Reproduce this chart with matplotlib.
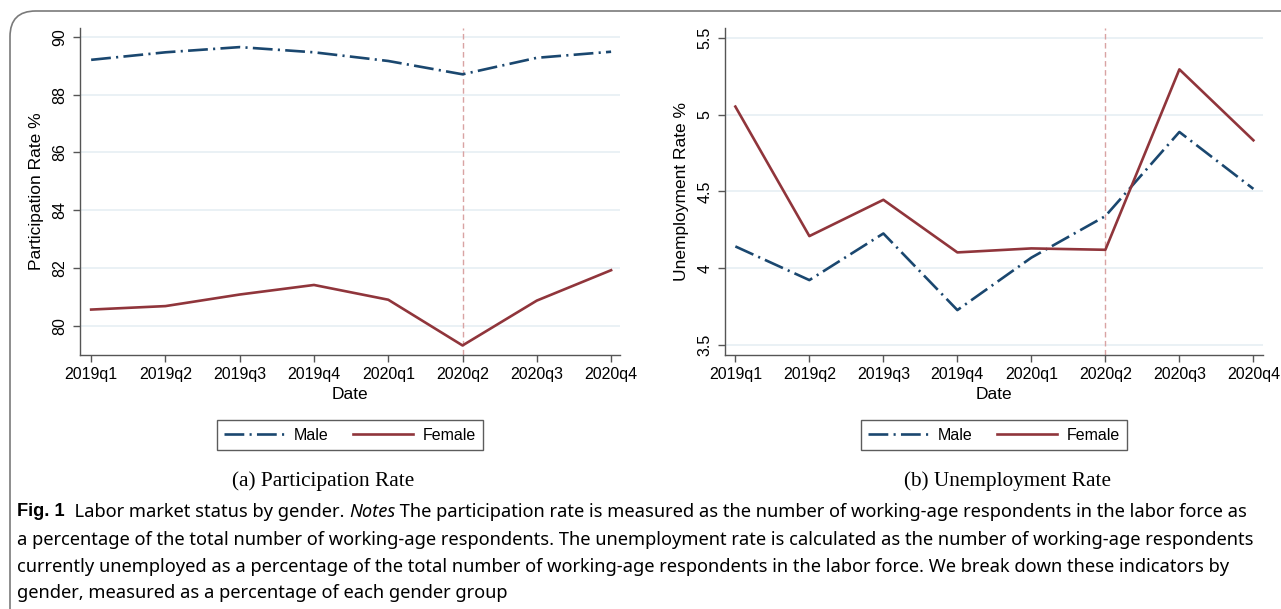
import matplotlib
matplotlib.use("Agg")
import matplotlib.pyplot as plt
from matplotlib.patches import FancyBboxPatch
from matplotlib.lines import Line2D

# Quarterly series by gender
quarters = ["2019q1", "2019q2", "2019q3", "2019q4", "2020q1", "2020q2", "2020q3", "2020q4"]
participation_male = [89.20, 89.46, 89.64, 89.46, 89.16, 88.70, 89.27, 89.48]
participation_female = [80.57, 80.69, 81.09, 81.42, 80.91, 79.33, 80.88, 81.93]
unemployment_male = [4.143, 3.924, 4.227, 3.729, 4.07, 4.34, 4.887, 4.517]
unemployment_female = [5.052, 4.21, 4.446, 4.104, 4.13, 4.121, 5.294, 4.833]

participation_ticks = [80, 82, 84, 86, 88, 90]
unemployment_ticks = [3.5, 4, 4.5, 5, 5.5]
unemployment_ticklabels = ["3.5", "4", "4.5", "5", "5.5"]
event_quarter = "2020q2"

NAVY = "#1a476f"
MAROON = "#90353b"
GRID = "#e6eff3"
AXIS = "#555555"
EVENT = "#d9a3a3"
MALE_DASH = (0, (7.5, 2.0, 0.8, 2.0))

plt.rcParams["font.family"] = ["Liberation Sans", "DejaVu Sans"]

W, H = 1281, 609
fig = plt.figure(figsize=(W / 100, H / 100), dpi=100)
fig.patch.set_facecolor("white")

def frac(x0, y0, x1, y1):
    return [x0 / W, 1 - y1 / H, (x1 - x0) / W, (y1 - y0) / H]

def panel(rect, male, female, ylim, yticks, yticklabels, ylabel, xlim):
    ax = fig.add_axes(rect)
    x = list(range(len(quarters)))
    ax.set_xlim(*xlim)
    ax.set_ylim(*ylim)
    for t in yticks:
        ax.axhline(t, color=GRID, lw=1.2, zorder=0)
    ev = quarters.index(event_quarter)
    ax.axvline(ev, color=EVENT, lw=1.0, ls=(0, (4, 2.5)), zorder=1)
    ax.plot(x, male, color=NAVY, lw=1.9, ls=MALE_DASH, zorder=3)
    ax.plot(x, female, color=MAROON, lw=1.9, zorder=3)
    ax.set_xticks(x)
    ax.set_xticklabels(quarters, fontsize=11.5)
    ax.set_yticks(yticks)
    ax.set_yticklabels(yticklabels, fontsize=11.5, rotation=90, va="center")
    ax.set_xlabel("Date", fontsize=12.5, labelpad=3)
    ax.set_ylabel(ylabel, fontsize=12.5, labelpad=6)
    for s in ["top", "right"]:
        ax.spines[s].set_visible(False)
    for s in ["left", "bottom"]:
        ax.spines[s].set_color(AXIS)
        ax.spines[s].set_linewidth(1.0)
    ax.tick_params(direction="out", length=5, width=1.0, color=AXIS, pad=4)
    ax.set_facecolor("white")
    return ax

axL = panel(frac(80, 28, 620, 355), participation_male, participation_female,
            (79.0, 90.3), participation_ticks, [str(t) for t in participation_ticks],
            "Participation Rate %", (-0.15, 7.12))
axR = panel(frac(725, 28, 1263, 355), unemployment_male, unemployment_female,
            (3.437, 5.563), unemployment_ticks, unemployment_ticklabels,
            "Unemployment Rate %", (-0.14, 7.13))

handles = [Line2D([], [], color=NAVY, lw=1.9, ls=MALE_DASH),
           Line2D([], [], color=MAROON, lw=1.9)]
for cx in (350 / W, 994 / W):
    leg = fig.legend(handles, ["Male", "Female"], loc="center", ncol=2,
                     bbox_to_anchor=(cx, 1 - 435 / H), fontsize=11.5, frameon=True,
                     fancybox=False, edgecolor="#333333", handlelength=3.8,
                     columnspacing=1.5, borderpad=0.45, handletextpad=0.6,
                     borderaxespad=0)
    leg.get_frame().set_linewidth(1.0)

# Panel subtitles
serif = ["Liberation Serif", "DejaVu Serif"]
fig.text(323 / W, 1 - 481 / H, "(a) Participation Rate", ha="center", va="center",
         fontsize=15.3, family=serif)
fig.text(1007 / W, 1 - 481 / H, "(b) Unemployment Rate", ha="center", va="center",
         fontsize=15.3, family=serif)

# Figure caption, sized so the longest line spans the frame width
cap_font = ["Noto Sans", "DejaVu Sans"]
bold_font = ["Liberation Sans", "DejaVu Sans"]
lines_y = [512, 540, 567, 593]
first_parts = [("Fig. 1", dict(fontweight="bold", family=bold_font)),
               ("  Labor market status by gender. ", dict(family=cap_font)),
               ("Notes", dict(style="italic", family=cap_font)),
               (" The participation rate is measured as the number of working-age respondents in the labor force as",
                dict(family=cap_font))]
caption_rest = [
    "a percentage of the total number of working-age respondents. The unemployment rate is calculated as the number of working-age respondents",
    "currently unemployed as a percentage of the total number of working-age respondents in the labor force. We break down these indicators by",
    "gender, measured as a percentage of each gender group",
]

renderer = fig.canvas.get_renderer()
probe = fig.text(0, 0, caption_rest[0], fontsize=12, family=cap_font)
probe_w = probe.get_window_extent(renderer).width
probe.remove()
cap_size = 12 * (1253 - 17) / probe_w

x = 17
for txt, kw in first_parts:
    t = fig.text(x / W, 1 - lines_y[0] / H, txt, ha="left", va="center",
                 fontsize=cap_size, **kw)
    x += t.get_window_extent(renderer).width
for yy, txt in zip(lines_y[1:], caption_rest):
    fig.text(17 / W, 1 - yy / H, txt, ha="left", va="center",
             fontsize=cap_size, family=cap_font)

# Rounded frame around the figure
frame = FancyBboxPatch((10 / W, -0.05), 1.2, 1 - 11 / H + 0.05,
                       boxstyle="round,pad=0,rounding_size=0.02",
                       transform=fig.transFigure, fill=False, edgecolor="#7a7a7a",
                       lw=1.2, clip_on=False, mutation_aspect=W / H)
fig.patches.append(frame)

fig.savefig("out.png", dpi=100)
